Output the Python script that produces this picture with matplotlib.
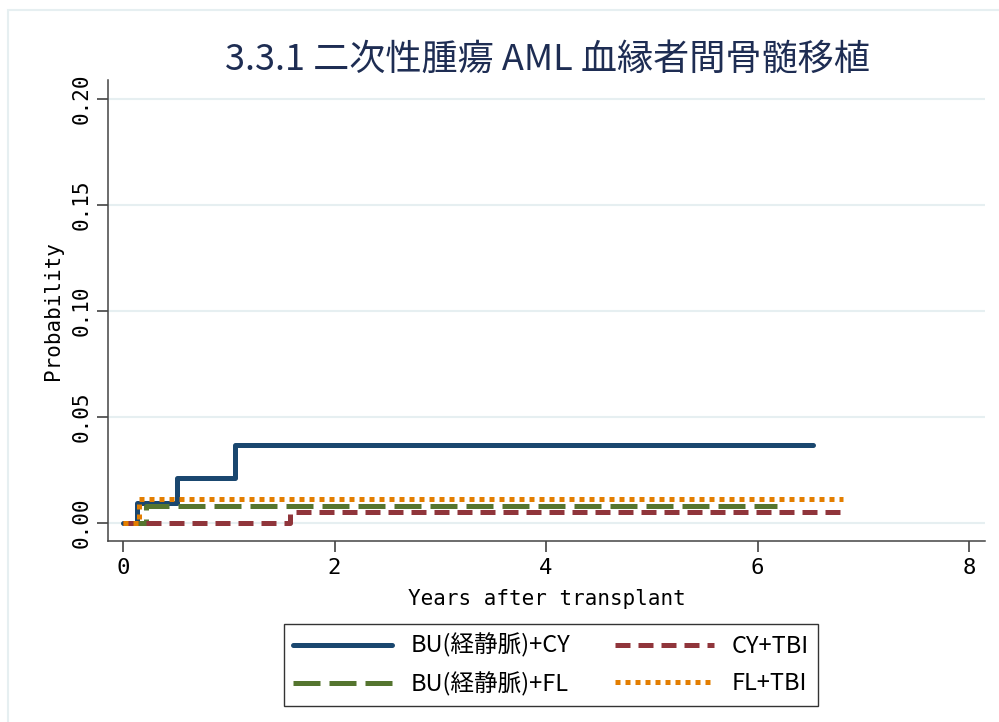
import matplotlib
matplotlib.use("Agg")
import matplotlib.pyplot as plt
from matplotlib.patches import Rectangle


# series (years after transplant, cumulative probability) - step data
bucy_t = [0, 0.13, 0.51, 1.06, 6.52]
bucy_p = [0, 0.0094, 0.0212, 0.0368, 0.0368]

bufl_t = [0, 0.22, 6.18]
bufl_p = [0, 0.0080, 0.0080]

cytbi_t = [0, 1.58, 6.81]
cytbi_p = [0, 0.0052, 0.0052]

fltbi_t = [0, 0.15, 6.81]
fltbi_p = [0, 0.0113, 0.0113]

labels = ["BU(経静脈)+CY", "BU(経静脈)+FL", "CY+TBI", "FL+TBI"]
xticks = [0, 2, 4, 6, 8]
yticks = [0.00, 0.05, 0.10, 0.15, 0.20]

title = "3.3.1 二次性腫瘍 AML 血縁者間骨髄移植"

plt.rcParams['font.family'] = ['Noto Sans CJK JP', 'DejaVu Sans']
mono = 'DejaVu Sans Mono'

fig = plt.figure(figsize=(9.99, 7.22), dpi=100)
# faint outer frame like the stata graph region
fig.patches.append(Rectangle((8 / 999, -0.01), 1.0, 1 - 10 / 722 + 0.01,
                             transform=fig.transFigure, fill=False,
                             edgecolor='#e6eff1', lw=1.5))

ax = fig.add_axes([108 / 999, 1 - 541 / 722, 877 / 999, 461 / 722])

lw = 3.6
l1, = ax.step(bucy_t, bucy_p, where='post', color='#1a476f', lw=lw,
              solid_capstyle='round')
l2, = ax.step(bufl_t, bufl_p, where='post', color='#55752f', lw=lw,
              dashes=(5.4, 1.8))
l3, = ax.step(cytbi_t, cytbi_p, where='post', color='#90353b', lw=lw,
              dashes=(3.0, 1.6))
l4, = ax.step(fltbi_t, fltbi_p, where='post', color='#e37e00', lw=lw,
              dashes=(1.0, 1.0))

ax.set_xlim(-0.142, 8.151)
ax.set_ylim(-0.0085, 0.209)

# gridlines
for y in yticks:
    ax.axhline(y, color='#e6eff1', lw=1.5, zorder=0)

ax.set_xticks(xticks)
ax.set_yticks(yticks)
ax.set_xticklabels([str(v) for v in xticks], fontfamily=mono, fontsize=16)
ax.set_yticklabels([f"{v:.2f}" for v in yticks], fontfamily=mono,
                   fontsize=15, rotation=90, va='center')
ax.tick_params(axis='both', direction='out', length=8, width=1.1,
               color='#333333', pad=4)

for s in ['top', 'right']:
    ax.spines[s].set_visible(False)
for s in ['left', 'bottom']:
    ax.spines[s].set_color('#444444')
    ax.spines[s].set_linewidth(1.1)

ax.set_xlabel("Years after transplant", fontfamily=mono, fontsize=15,
              labelpad=8)
ax.set_ylabel("Probability", fontfamily=mono, fontsize=15, labelpad=6)

fig.text(547 / 999, 1 - 60 / 722, title, ha='center', va='center',
         fontsize=26, color='#1e2d53')

leg = fig.legend([l1, l2, l3, l4], labels, ncol=2, loc='center',
                 bbox_to_anchor=(551 / 999, 1 - 665 / 722), fontsize=17,
                 frameon=True, fancybox=False, edgecolor='black',
                 handlelength=4.2, handletextpad=0.75, columnspacing=1.9,
                 labelspacing=0.6, borderpad=0.4)
leg.get_frame().set_linewidth(1.0)

fig.savefig("out.png", dpi=100, facecolor='white')
